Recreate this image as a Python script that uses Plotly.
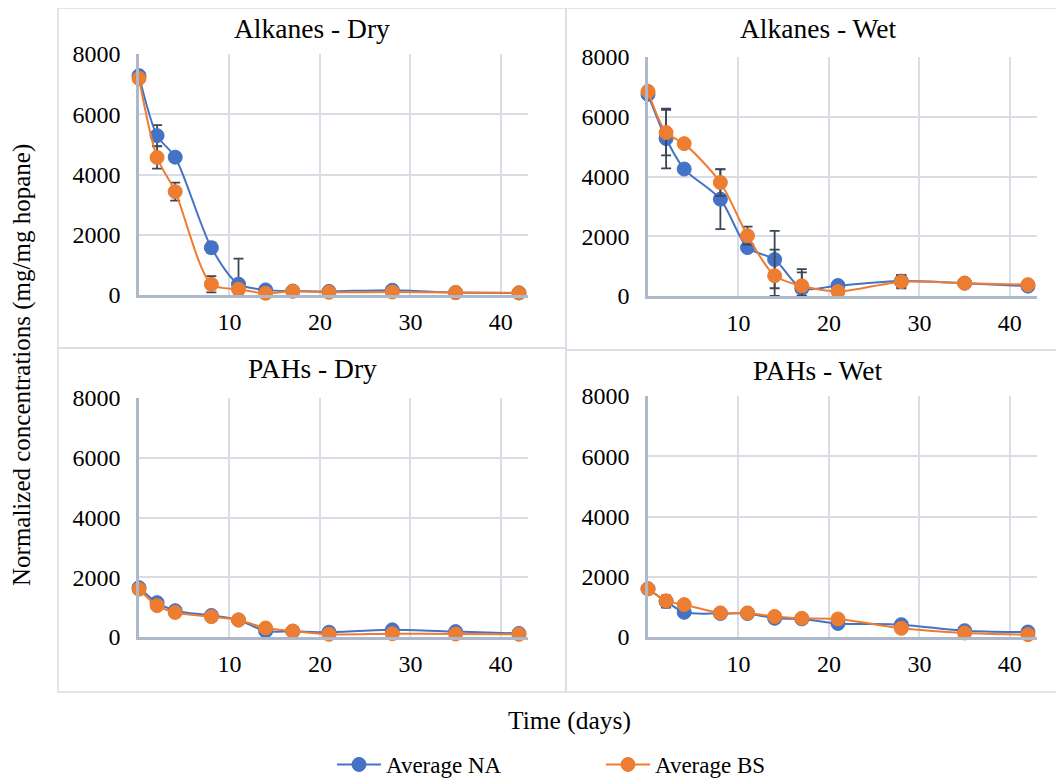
import plotly.graph_objects as go

# ---------------- data ----------------
days = [0, 2, 4, 8, 11, 14, 17, 21, 28, 35, 42]

alk_dry_na = [7280, 5290, 4575, 1570, 360, 170, 130, 120, 160, 80, 70]
alk_dry_na_err = [60, 350, 60, 170, 850, 30, 40, 30, 40, 20, 20]
alk_dry_bs = [7190, 4565, 3430, 355, 190, 55, 125, 90, 100, 80, 70]
alk_dry_bs_err = [80, 370, 300, 270, 60, 30, 30, 30, 40, 20, 20]

alk_wet_na = [6750, 5270, 4250, 3240, 1620, 1220, 250, 350, 500, 430, 330]
alk_wet_na_err = [80, 1000, 60, 1000, 120, 960, 650, 60, 200, 40, 40]
alk_wet_bs = [6850, 5470, 5100, 3800, 2020, 680, 340, 150, 480, 430, 380]
alk_wet_bs_err = [60, 760, 80, 450, 300, 875, 450, 40, 220, 40, 40]

pah_dry_na = [1650, 1150, 880, 720, 570, 200, 190, 160, 240, 180, 120]
pah_dry_na_err = [50, 80, 60, 50, 40, 30, 30, 20, 40, 30, 20]
pah_dry_bs = [1600, 1050, 820, 680, 570, 300, 200, 90, 110, 100, 90]
pah_dry_bs_err = [50, 80, 60, 50, 40, 30, 30, 20, 40, 30, 20]

pah_wet_na = [1600, 1180, 820, 780, 780, 620, 600, 450, 410, 210, 166]
pah_wet_na_err = [50, 200, 60, 150, 50, 40, 40, 40, 80, 40, 30]
pah_wet_bs = [1600, 1200, 1075, 800, 800, 680, 620, 598, 288, 133, 78]
pah_wet_bs_err = [50, 150, 60, 100, 50, 40, 40, 40, 60, 30, 20]

panel_titles = ["Alkanes - Dry", "Alkanes - Wet", "PAHs - Dry", "PAHs - Wet"]
series_names = ["Average NA", "Average BS"]
x_ticks = [10, 20, 30, 40]
y_ticks = [0, 2000, 4000, 6000, 8000]

panels = [
    (alk_dry_na, alk_dry_na_err, alk_dry_bs, alk_dry_bs_err),
    (alk_wet_na, alk_wet_na_err, alk_wet_bs, alk_wet_bs_err),
    (pah_dry_na, pah_dry_na_err, pah_dry_bs, pah_dry_bs_err),
    (pah_wet_na, pah_wet_na_err, pah_wet_bs, pah_wet_bs_err),
]

# ---------------- layout geometry (page pixels) ----------------
OFF = 8                      # default page body margin
W, H = 1064 - OFF, 784 - OFF  # figure size so it fills the window exactly
BLUE = "#4472C4"
ORANGE = "#ED7D31"
ERR = "#3B4658"
FONT = "'Liberation Serif', 'Times New Roman', 'DejaVu Serif', serif"

def px(x):
    return (x - OFF) / W

def py(y):
    return 1 - (y - OFF) / H

plot_boxes = [  # (left, right, top, bottom) in page px
    (139, 528, 54, 295),
    (648, 1037, 57, 296),
    (139, 528, 398, 637),
    (648, 1037, 396, 637),
]
panel_boxes = [
    (58, 566, 8, 348),
    (566, 1075, 8, 350),
    (58, 566, 348, 692),
    (566, 1075, 350, 692),
]

fig = go.Figure()

for i, (na, na_err, bs, bs_err) in enumerate(panels):
    ax = "" if i == 0 else str(i + 1)
    for name, vals, errs, col in [
        (series_names[0], na, na_err, BLUE),
        (series_names[1], bs, bs_err, ORANGE),
    ]:
        fig.add_trace(go.Scatter(
            x=days, y=vals, name=name, mode="lines+markers",
            xaxis="x" + ax, yaxis="y" + ax,
            line=dict(color=col, width=2, shape="spline", smoothing=0.8),
            marker=dict(color=col, size=14, line=dict(color=col, width=1)),
            error_y=dict(type="data", array=errs,
                         arrayminus=[min(e, v) for e, v in zip(errs, vals)],
                         color=ERR, thickness=1.8, width=5),
            cliponaxis=False,
            showlegend=(i == 0),
            legendgroup=name,
        ))

layout = dict(
    width=W, height=H,
    margin=dict(l=0, r=0, t=0, b=0, autoexpand=False),
    paper_bgcolor="white", plot_bgcolor="white",
    font=dict(family=FONT, color="#000000", size=23),
    showlegend=True,
    legend=dict(orientation="h", x=px(332), y=py(786), xanchor="left", yanchor="bottom",
                font=dict(size=23, family=FONT), entrywidth=210, itemwidth=44,
                bgcolor="rgba(0,0,0,0)"),
)

shapes = []
annotations = []
for i in range(4):
    ax = "" if i == 0 else str(i + 1)
    l, r, t, b = plot_boxes[i]
    layout["xaxis" + ax] = dict(
        domain=[px(l), min(px(r), 1)], anchor="y" + ax, range=[0, 43],
        tickvals=x_ticks, showgrid=True, gridcolor="#D9DDE5", gridwidth=1.5,
        showline=True, linecolor="#ADB9CA", linewidth=2.5, zeroline=False,
        ticks="", ticklabelstandoff=3, tickfont=dict(size=24, family=FONT),
    )
    layout["yaxis" + ax] = dict(
        domain=[py(b), py(t)], anchor="x" + ax, range=[0, 8000],
        tickvals=y_ticks, showgrid=True, gridcolor="#D9DDE5", gridwidth=1.5,
        showline=True, linecolor="#ADB9CA", linewidth=2.5, zeroline=False,
        ticks="", ticklabelstandoff=11, tickfont=dict(size=24, family=FONT),
    )
    pl, pr, pt, pb = panel_boxes[i]
    shapes.append(dict(type="rect", xref="paper", yref="paper",
                       x0=px(pl), x1=px(pr), y0=py(pb), y1=py(pt),
                       line=dict(color="#D9DDE5", width=1.5), layer="below"))
    annotations.append(dict(text=panel_titles[i], xref="paper", yref="paper",
                            x=px((pl + min(pr, 1070)) / 2), y=py(pt + 20),
                            xanchor="center", yanchor="middle", showarrow=False,
                            font=dict(size=27.5, family=FONT)))

annotations.append(dict(text="Time (days)", xref="paper", yref="paper",
                        x=px(569), y=py(720), xanchor="center", yanchor="middle",
                        showarrow=False, font=dict(size=25.5, family=FONT)))
annotations.append(dict(text="Normalized concentrations (mg/mg hopane)", xref="paper",
                        yref="paper", x=px(22), y=py(365), xanchor="center",
                        yanchor="middle", textangle=-90, showarrow=False,
                        font=dict(size=25, family=FONT)))

layout["shapes"] = shapes
layout["annotations"] = annotations
fig.update_layout(**layout)
fig.write_html("out.html")
